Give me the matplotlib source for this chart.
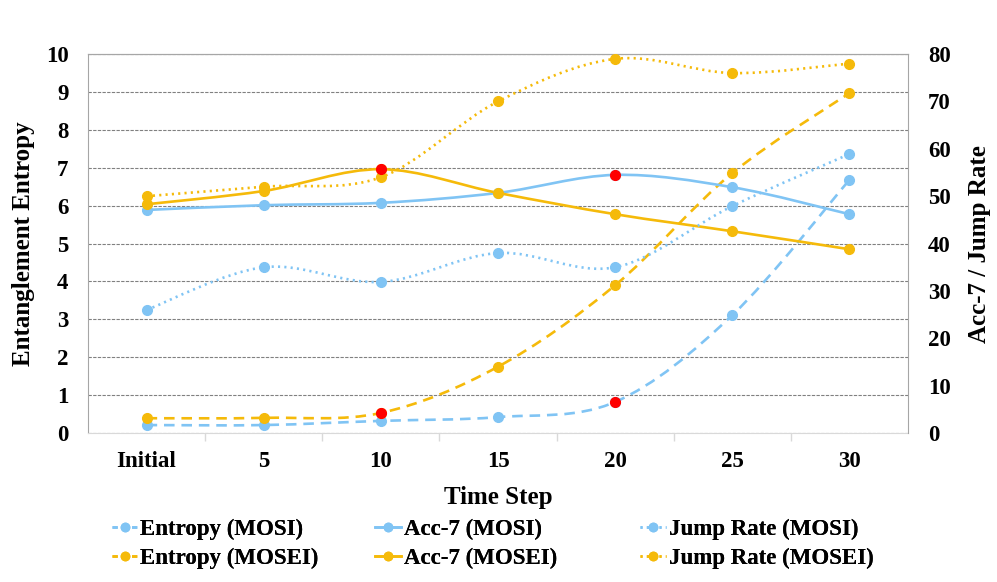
import numpy as np
import matplotlib.pyplot as plt
from matplotlib.path import Path
from matplotlib.patches import PathPatch
from matplotlib.lines import Line2D

plt.rcParams['font.family'] = ['Liberation Serif', 'DejaVu Serif']
plt.rcParams['font.weight'] = 'bold'
plt.rcParams['axes.labelweight'] = 'bold'

steps = ['Initial', '5', '10', '15', '20', '25', '30']
entropy_mosi = [0.21, 0.21, 0.32, 0.42, 0.82, 3.11, 6.68]
entropy_mosei = [0.39, 0.40, 0.53, 1.75, 3.90, 6.86, 8.97]
acc7_mosi = [47.1, 48.1, 48.6, 50.7, 54.5, 51.9, 46.2]
acc7_mosei = [48.3, 51.1, 55.7, 50.7, 46.2, 42.6, 38.8]
jump_mosi = [26.0, 35.0, 31.9, 38.0, 35.0, 47.9, 58.9]
jump_mosei = [50.0, 52.0, 54.0, 70.0, 79.0, 76.0, 78.0]
# index of the highlighted (red) point, None if no highlight
best_entropy_mosi = 4
best_entropy_mosei = 2
best_acc7_mosi = 4
best_acc7_mosei = 2

BLUE = '#80C4F4'
GOLD = '#F5BA0A'
RED = '#FF0000'
DASH = (0, (4, 2.6))
DOT = (0, (0.8, 1.6))


def smooth_path(x, y):
    # excel style smoothed line (catmull-rom as cubic bezier)
    pts = np.column_stack([x, y]).astype(float)
    ext = np.vstack([pts[0], pts, pts[-1]])
    verts = [pts[0]]
    codes = [Path.MOVETO]
    for i in range(len(pts) - 1):
        p0, p1, p2, p3 = ext[i], ext[i + 1], ext[i + 2], ext[i + 3]
        verts += [p1 + (p2 - p0) / 6, p2 - (p3 - p1) / 6, p2]
        codes += [Path.CURVE4] * 3
    return Path(verts, codes)


def draw_series(ax, y, color, ls, best=None):
    x = np.arange(len(y))
    patch = PathPatch(smooth_path(x, y), fill=False, edgecolor=color,
                      lw=1.9, linestyle=ls, capstyle='butt', zorder=3)
    ax.add_patch(patch)
    ax.plot(x, y, 'o', color=color, ms=7, zorder=4)
    if best is not None:
        ax.plot(x[best], y[best], 'o', color=RED, ms=7, zorder=5)


fig = plt.figure(figsize=(9.97, 5.82), dpi=100)
ax = fig.add_axes([0.0883, 0.256, 0.8224, 0.651])
ax2 = ax.twinx()

draw_series(ax, entropy_mosi, BLUE, DASH, best_entropy_mosi)
draw_series(ax, entropy_mosei, GOLD, DASH, best_entropy_mosei)
draw_series(ax2, acc7_mosi, BLUE, '-', best_acc7_mosi)
draw_series(ax2, acc7_mosei, GOLD, '-', best_acc7_mosei)
draw_series(ax2, jump_mosi, BLUE, DOT)
draw_series(ax2, jump_mosei, GOLD, DOT)

ax.set_xlim(-0.5, len(steps) - 0.5)
ax.set_ylim(0, 10)
ax2.set_ylim(0, 80)
ax.set_yticks(range(0, 11))
ax2.set_yticks(range(0, 81, 10))
ax.set_xticks(range(len(steps)))
ax.set_xticklabels(steps)
ax.set_xticks(np.arange(0.5, len(steps) - 0.5), minor=True)
ax.tick_params(axis='x', which='major', length=0, pad=13, labelsize=16.5)
ax.tick_params(axis='x', which='minor', length=6, color='#D9D9D9', width=1)
ax.tick_params(axis='y', length=0, pad=14, labelsize=16.5)
ax2.tick_params(axis='y', length=0, pad=14.5, labelsize=16.5)

ax.yaxis.grid(True, linestyle=(0, (3, 1.2)), color='#808080', lw=0.8)
ax.set_axisbelow(True)
for side in ['left', 'top']:
    ax.spines[side].set_color('#A6A6A6')
ax.spines['bottom'].set_color('#D9D9D9')
ax.spines['right'].set_visible(False)
for side in ['left', 'bottom']:
    ax2.spines[side].set_visible(False)
ax2.spines['top'].set_color('#A6A6A6')
ax2.spines['right'].set_color('#A6A6A6')

ax.set_xlabel('Time Step', fontsize=18, labelpad=10)
ax.set_ylabel('Entanglement Entropy', fontsize=18, labelpad=8)
ax2.set_ylabel('Acc-7 / Jump Rate', fontsize=18, labelpad=12)

# one legend per column so the columns sit at equal pitch like the original
legend_cols = [
    (['Entropy (MOSI)', 'Entropy (MOSEI)'], (0, (2.0, 1.7)), 0.112),
    (['Acc-7 (MOSI)', 'Acc-7 (MOSEI)'], '-', 0.376),
    (['Jump Rate (MOSI)', 'Jump Rate (MOSEI)'], DOT, 0.642),
]
for labels, ls, xpos in legend_cols:
    handles = [Line2D([], [], color=c, linestyle=ls, lw=1.9, marker='o', ms=6)
               for c in (BLUE, GOLD)]
    leg = fig.legend(handles, labels, loc='upper left',
                     bbox_to_anchor=(xpos, 0.108), frameon=False,
                     fontsize=16.5, handlelength=1.15, handletextpad=0.1,
                     labelspacing=0.32, borderpad=0, borderaxespad=0)
    fig.add_artist(leg)

fig.savefig('out.png', dpi=100)
